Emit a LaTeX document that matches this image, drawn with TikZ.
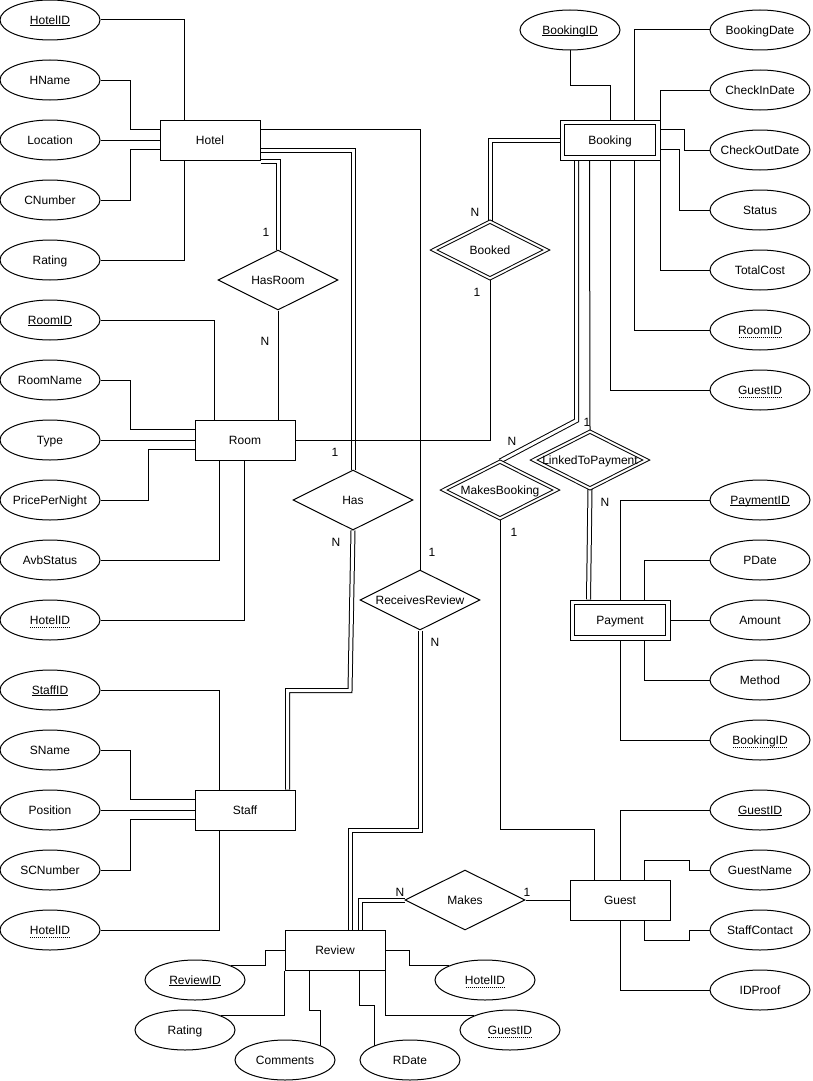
\documentclass[tikz,border=0pt]{standalone}
\usepackage{fontspec}
\setmainfont{Liberation Sans}
\usetikzlibrary{shapes.geometric,calc}
\pgfdeclarelayer{bg}
\pgfsetlayers{bg,main}
\newsavebox\kbox
\newcommand\kul[1]{\sbox\kbox{#1}\rlap{\lower1.6pt\hbox{\vrule width \wd\kbox height 0.8pt}}\usebox\kbox}
\newcommand\kdul[1]{\sbox\kbox{#1}\rlap{\lower3pt\hbox to \wd\kbox{\xleaders\hbox to 2pt{\hss\vrule width 1pt height 0.8pt\hss}\hfill}}\usebox\kbox}
\newcommand\zw[1]{\makebox[0pt]{#1}}
\tikzset{
 base/.style={line width=1pt, draw=black, font=\fontsize{12}{14}\selectfont, text height=8.6pt, text depth=0pt, inner sep=0pt, fill=white},
 ent/.style={base, rectangle, minimum width=100pt, minimum height=40pt},
 attr/.style={base, ellipse, minimum width=100pt, minimum height=40pt},
 rel/.style={base, diamond, minimum width=120pt, minimum height=60pt},
 drel/.style={rel, double, double distance=2pt, minimum width=113pt, minimum height=57pt},
 conn/.style={line width=1pt},
 lnk/.style={line width=1pt, double, double distance=3pt},
 lbl/.style={font=\fontsize{12}{14}\selectfont, inner sep=0pt, text height=8.6pt, text depth=0pt}
}
\begin{document}
\begin{tikzpicture}[x=1pt,y=-1pt]
\useasboundingbox (0,0) rectangle (812,1081);
% entities
\node[ent] (hotel) at (210,140) {\zw{Hotel}};
\node[ent] (room) at (245,440) {\zw{Room}};
\node[ent] (staff) at (245,810) {\zw{Staff}};
\node[ent] (review) at (335,950) {\zw{Review}};
\node[ent] (guest) at (620,900) {\zw{Guest}};
\node[ent] (booking) at (610,140) {\zw{Booking}};
\draw[conn] ($(booking.north west)+(5,5)$) rectangle ($(booking.south east)+(-5,-5)$);
\node[ent] (payment) at (620,620) {\zw{Payment}};
\draw[conn] ($(payment.north west)+(5,5)$) rectangle ($(payment.south east)+(-5,-5)$);
% relationships
\node[rel] (hasroom) at (278,280) {\zw{HasRoom}};
\node[rel] (has) at (353,500) {\zw{Has}};
\node[rel] (rr) at (420,600) {\zw{ReceivesReview}};
\node[rel] (makes) at (465,900) {\zw{Makes}};
\node[drel] (booked) at (490,250) {\zw{Booked}};
\node[drel] (mb) at (500,490) {\zw{MakesBooking}};
\node[drel] (ltp) at (590,460) {\zw{LinkedToPayment}};
% hotel attributes
\node[attr] (hid) at (50,20) {\zw{\kul{HotelID}}};
\node[attr] (hname) at (50,80) {\zw{HName}};
\node[attr] (loc) at (50,140) {\zw{Location}};
\node[attr] (cnum) at (50,200) {\zw{CNumber}};
\node[attr] (hrat) at (50,260) {\zw{Rating}};
% room attributes
\node[attr] (rid) at (50,320) {\zw{\kul{RoomID}}};
\node[attr] (rname) at (50,380) {\zw{RoomName}};
\node[attr] (rtype) at (50,440) {\zw{Type}};
\node[attr] (ppn) at (50,500) {\zw{PricePerNight}};
\node[attr] (avb) at (50,560) {\zw{AvbStatus}};
\node[attr] (rhid) at (50,620) {\zw{\kdul{HotelID}}};
% staff attributes
\node[attr] (sid) at (50,690) {\zw{\kul{StaffID}}};
\node[attr] (sname) at (50,750) {\zw{SName}};
\node[attr] (spos) at (50,810) {\zw{Position}};
\node[attr] (scn) at (50,870) {\zw{SCNumber}};
\node[attr] (shid) at (50,930) {\zw{\kdul{HotelID}}};
% booking attributes
\node[attr] (bid) at (570,30) {\zw{\kul{BookingID}}};
\node[attr] (bdate) at (760,30) {\zw{BookingDate}};
\node[attr] (cin) at (760,90) {\zw{CheckInDate}};
\node[attr] (cout) at (760,150) {\zw{CheckOutDate}};
\node[attr] (bst) at (760,210) {\zw{Status}};
\node[attr] (tcost) at (760,270) {\zw{TotalCost}};
\node[attr] (brid) at (760,330) {\zw{\kdul{RoomID}}};
\node[attr] (bgid) at (760,390) {\zw{\kdul{GuestID}}};
% payment attributes
\node[attr] (pid) at (760,500) {\zw{\kul{PaymentID}}};
\node[attr] (pdate) at (760,560) {\zw{PDate}};
\node[attr] (amt) at (760,620) {\zw{Amount}};
\node[attr] (meth) at (760,680) {\zw{Method}};
\node[attr] (pbid) at (760,740) {\zw{\kdul{BookingID}}};
% guest attributes
\node[attr] (gid) at (760,810) {\zw{\kul{GuestID}}};
\node[attr] (gname) at (760,870) {\zw{GuestName}};
\node[attr] (gcon) at (760,930) {\zw{StaffContact}};
\node[attr] (idp) at (760,990) {\zw{IDProof}};
% review attributes
\node[attr] (revid) at (195,980) {\zw{\kul{ReviewID}}};
\node[attr] (rvrat) at (185,1030) {\zw{Rating}};
\node[attr] (com) at (285,1060) {\zw{Comments}};
\node[attr] (rdate) at (410,1060) {\zw{RDate}};
\node[attr] (rvhid) at (485,980) {\zw{\kdul{HotelID}}};
\node[attr] (rvgid) at (510,1030) {\zw{\kdul{GuestID}}};
% cardinality labels
\node[lbl] (c1) at (266,232) {1};
\node[lbl] (c2) at (265,341) {N};
\node[lbl] (c3) at (475,212) {N};
\node[lbl] (c4) at (477,292) {1};
\node[lbl] (c5) at (335,452) {1};
\node[lbl] (c6) at (336,542) {N};
\node[lbl] (c7) at (432,552) {1};
\node[lbl] (c8) at (435,642) {N};
\node[lbl] (c9) at (512,441) {N};
\node[lbl] (c10) at (587,422) {1};
\node[lbl] (c11) at (605,502) {N};
\node[lbl] (c12) at (514,532) {1};
\node[lbl] (c13) at (400,892) {N};
\node[lbl] (c14) at (527,892) {1};
\begin{pgfonlayer}{bg}
% double (total participation) links
\draw[lnk] ($(hotel.north east)+(0,31)$) -| (has.north);
\draw[lnk] ($(hotel.south east)+(0,1)$) -| (hasroom.north);
\draw[lnk] (has.south) -- ($(has.south)+(-3,160)$) -| ($(staff.north west)+(93,0)$);
\draw[lnk] (rr.south) -- ++(0,200) -| ($(review.north west)+(66,0)$);
\draw[lnk] (makes.west) -| ($(review.north west)+(76,0)$);
\draw[lnk] (booking.west) -| (booked.north);
\draw[lnk] ($(booking.south west)+(17,0)$) -- ++(0,260) -- (mb.north);
\draw[lnk] (ltp.south) -- ($(payment.north west)+(19,0)$);
% single links
\draw[conn] ($(hotel.north east)+(0,10)$) -| (rr.north);
\draw[conn] (hasroom.south) -- (hasroom.south |- room.north);
\draw[conn] (room.east) -| (booked.south);
\draw[conn] ($(booking.south west)+(30,0)$) -- (ltp.north);
\draw[conn] (mb.south) -- ++(0,310) -| ($(guest.north west)+(25,0)$);
\draw[conn] (makes.east) -- (guest.west);
% hotel
\draw[conn] (hid.east) -| ($(hotel.north west)+(25,0)$);
\draw[conn] (hname.east) -- ++(30,0) |- ($(hotel.north west)+(0,10)$);
\draw[conn] (loc.east) -- (hotel.west);
\draw[conn] (cnum.east) -- ++(30,0) |- ($(hotel.north west)+(0,30)$);
\draw[conn] (hrat.east) -| ($(hotel.south west)+(25,0)$);
% room
\draw[conn] (rid.east) -| ($(room.north west)+(20,0)$);
\draw[conn] (rname.east) -- ++(30,0) |- ($(room.north west)+(0,10)$);
\draw[conn] (rtype.east) -- (room.west);
\draw[conn] (ppn.east) -- ++(48,0) |- ($(room.north west)+(0,30)$);
\draw[conn] (avb.east) -| ($(room.south west)+(25,0)$);
\draw[conn] (rhid.east) -| ($(room.south west)+(50,0)$);
% staff
\draw[conn] (sid.east) -| ($(staff.north west)+(25,0)$);
\draw[conn] (sname.east) -- ++(30,0) |- ($(staff.north west)+(0,10)$);
\draw[conn] (spos.east) -- (staff.west);
\draw[conn] (scn.east) -- ++(30,0) |- ($(staff.north west)+(0,30)$);
\draw[conn] (shid.east) -| ($(staff.south west)+(25,0)$);
% booking
\draw[conn] (bid.south) -- ++(0,35) -| (booking.north);
\draw[conn] (bdate.west) -| ($(booking.north west)+(75,0)$);
\draw[conn] (cin.west) -| (booking.north east);
\draw[conn] (cout.west) -- ++(-25,0) |- ($(booking.north east)+(0,10)$);
\draw[conn] (bst.west) -- ++(-30,0) |- ($(booking.north east)+(0,30)$);
\draw[conn] (tcost.west) -| (booking.south east);
\draw[conn] (brid.west) -| ($(booking.south west)+(75,0)$);
\draw[conn] (bgid.west) -| (booking.south);
% payment
\draw[conn] (pid.west) -| (payment.north);
\draw[conn] (pdate.west) -| ($(payment.north west)+(75,0)$);
\draw[conn] (amt.west) -- (payment.east);
\draw[conn] (meth.west) -| ($(payment.south west)+(75,0)$);
\draw[conn] (pbid.west) -| (payment.south);
% guest
\draw[conn] (gid.west) -| (guest.north);
\draw[conn] (gname.west) -- ++(-20,0) -- ++(0,-10) -| ($(guest.north west)+(75,0)$);
\draw[conn] (gcon.west) -- ++(-20,0) -- ++(0,10) -| ($(guest.south west)+(75,0)$);
\draw[conn] (idp.west) -| (guest.south);
% review
\draw[conn] (revid.north east) -- ++(35,0) |- (review.west);
\draw[conn] (rvrat.north east) -| (review.south west);
\draw[conn] (com.north east) -- ++(0,-35) -| ($(review.south west)+(25,0)$);
\draw[conn] (rdate.north west) -- ++(0,-40) -| ($(review.south west)+(75,0)$);
\draw[conn] (rvhid.north west) -- ++(-40,0) |- (review.east);
\draw[conn] (rvgid.north west) -| (review.south east);
\end{pgfonlayer}
\end{tikzpicture}
\end{document}
